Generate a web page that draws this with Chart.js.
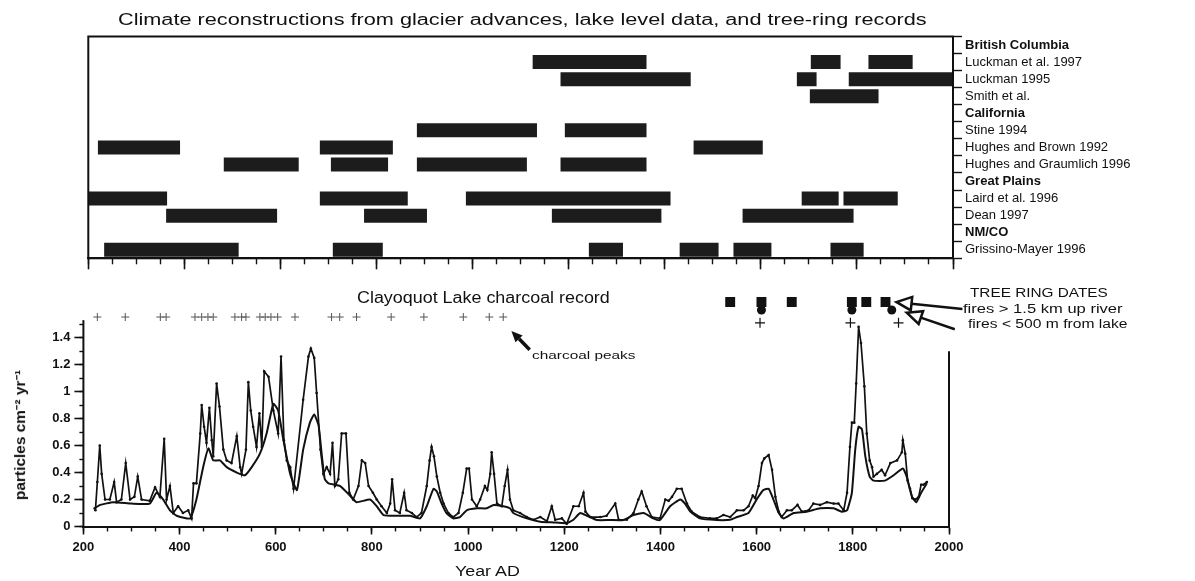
<!DOCTYPE html>
<html>
<head>
<meta charset="utf-8">
<script src="https://cdn.jsdelivr.net/npm/chart.js@4.4.1/dist/chart.umd.min.js"></script>
<style>
  body { margin: 0; background: #fff; }
  #wrap { position: relative; width: 1195px; height: 581px; overflow: hidden; font-family: Arial, "Liberation Sans", sans-serif; color: #111; }
  canvas { position: absolute; left: 0; }
  .txt { position: absolute; white-space: nowrap; line-height: 1; }
</style>
</head>
<body>
<div id="wrap">
  <canvas id="proxyChart" width="1195" height="275" style="top:0"></canvas>
  <canvas id="charcoalChart" width="1195" height="306" style="top:275px"></canvas>
</div>
<script>
// ---- top panel: climate reconstructions (year ranges) ----
const rowLabels = [
    'British Columbia', 'Luckman et al. 1997', 'Luckman 1995', 'Smith et al.',
    'California', 'Stine 1994', 'Hughes and Brown 1992', 'Hughes and Graumlich 1996',
    'Great Plains', 'Laird et al. 1996', 'Dean 1997', 'NM/CO', 'Grissino-Mayer 1996'
];
const regionRows = ['British Columbia', 'California', 'Great Plains', 'NM/CO'];

const luckmanEtAl1997 = [[1125, 1362], [1704, 1766], [1824, 1916]];
const luckman1995 = [[1183, 1454], [1675, 1716], [1783, 2000]];
const smithEtAl = [[1702, 1845]];
const stine1994 = [[884, 1134], [1192, 1362]];
const hughesBrown1992 = [[220, 391], [682, 834], [1460, 1604]];
const hughesGraumlich1996 = [[482, 638], [705, 824], [884, 1113], [1183, 1362]];
const laird1996 = [[200, 364], [682, 865], [986, 1412], [1685, 1762], [1772, 1885]];
const dean1997 = [[362, 593], [774, 905], [1165, 1393], [1562, 1793]];
const grissinoMayer1996 = [[233, 513], [709, 813], [1242, 1313], [1431, 1512], [1543, 1622], [1745, 1814]];

const rowBars = [
    [], luckmanEtAl1997, luckman1995, smithEtAl,
    [], stine1994, hughesBrown1992, hughesGraumlich1996,
    [], laird1996, dean1997, [], grissinoMayer1996
];

// ---- bottom panel: Clayoquot Lake charcoal record ----
const rawYears = [225, 229, 234, 238, 245, 255, 264, 269, 279, 288, 297, 306, 313, 321, 338, 349, 359, 368, 373, 380,
    387, 397, 407, 418, 425, 429, 435, 443, 446, 451, 456, 462, 467, 470, 477, 483, 491, 498, 508, 519,
    526, 529, 538, 543, 548, 553, 560, 566, 571, 576, 585, 595, 605, 611, 617, 623, 630, 637, 657, 668,
    673, 680, 685, 693, 699, 706, 713, 718, 723, 730, 737, 746, 753, 761, 772, 779, 786, 793, 802, 810,
    820, 831, 838, 842, 848, 858, 867, 872, 883, 893, 903, 914, 920, 924, 929, 935, 942, 949, 959, 969,
    980, 989, 997, 1002, 1008, 1018, 1025, 1035, 1040, 1046, 1049, 1054, 1060, 1070, 1076, 1082, 1087, 1094, 1108, 1122,
    1136, 1150, 1164, 1174, 1181, 1195, 1205, 1219, 1230, 1240, 1244, 1254, 1275, 1288, 1306, 1313, 1330, 1344, 1354, 1361,
    1371, 1382, 1399, 1410, 1417, 1424, 1434, 1444, 1455, 1465, 1482, 1503, 1517, 1531, 1545, 1559, 1573, 1583, 1592, 1597,
    1604, 1611, 1616, 1625, 1632, 1639, 1646, 1652, 1663, 1673, 1685, 1694, 1708, 1718, 1732, 1746, 1760, 1770, 1781, 1788,
    1794, 1798, 1803, 1807, 1812, 1817, 1824, 1829, 1835, 1840, 1843, 1850, 1860, 1867, 1878, 1892, 1902, 1904, 1909, 1914,
    1919, 1924, 1930, 1937, 1942, 1947, 1954];
const rawValues = [0.12, 0.33, 0.60, 0.39, 0.20, 0.20, 0.33, 0.18, 0.20, 0.47, 0.20, 0.22, 0.37, 0.20, 0.19, 0.29, 0.22, 0.65, 0.20, 0.30,
    0.10, 0.15, 0.10, 0.12, 0.06, 0.32, 0.32, 0.69, 0.90, 0.74, 0.62, 0.88, 0.64, 0.52, 1.06, 0.89, 0.57, 0.49, 0.47, 0.67,
    0.44, 0.39, 0.57, 1.07, 0.86, 0.74, 0.59, 0.84, 0.59, 1.15, 1.11, 0.86, 0.69, 1.26, 0.64, 0.49, 0.44, 0.28, 0.94, 1.26,
    1.32, 1.25, 0.99, 0.57, 0.39, 0.44, 0.39, 0.62, 0.30, 0.35, 0.69, 0.69, 0.25, 0.20, 0.30, 0.49, 0.47, 0.30, 0.25, 0.20,
    0.15, 0.10, 0.17, 0.35, 0.12, 0.10, 0.25, 0.12, 0.10, 0.07, 0.10, 0.30, 0.49, 0.59, 0.52, 0.37, 0.25, 0.17, 0.10, 0.07,
    0.10, 0.25, 0.43, 0.43, 0.20, 0.15, 0.20, 0.30, 0.27, 0.39, 0.55, 0.39, 0.17, 0.15, 0.30, 0.42, 0.20, 0.12, 0.10, 0.07,
    0.05, 0.07, 0.04, 0.15, 0.05, 0.06, 0.02, 0.15, 0.15, 0.25, 0.11, 0.07, 0.07, 0.08, 0.17, 0.05, 0.05, 0.10, 0.20, 0.26,
    0.15, 0.07, 0.06, 0.20, 0.19, 0.22, 0.28, 0.28, 0.17, 0.11, 0.07, 0.06, 0.06, 0.085, 0.07, 0.12, 0.12, 0.15, 0.23, 0.21,
    0.30, 0.47, 0.505, 0.53, 0.42, 0.22, 0.11, 0.07, 0.12, 0.12, 0.16, 0.11, 0.12, 0.17, 0.16, 0.18, 0.17, 0.17, 0.12, 0.25,
    0.59, 0.77, 0.77, 1.06, 1.48, 1.36, 1.04, 0.69, 0.49, 0.44, 0.37, 0.39, 0.42, 0.38, 0.47, 0.49, 0.55, 0.64, 0.54, 0.34,
    0.28, 0.21, 0.20, 0.22, 0.31, 0.31, 0.33];

const smoothYears = [221, 235, 262, 300, 338, 352, 366, 380, 394, 422, 435, 449, 460, 470, 484, 498, 519, 536, 550, 567,
    581, 595, 605, 616, 630, 644, 657, 671, 680, 689, 696, 702, 710, 734, 754, 768, 796, 810, 824, 852,
    879, 900, 914, 928, 935, 945, 955, 969, 983, 997, 1018, 1039, 1053, 1073, 1087, 1094, 1122, 1150, 1177, 1205,
    1219, 1233, 1247, 1268, 1295, 1323, 1344, 1365, 1385, 1399, 1420, 1441, 1451, 1462, 1482, 1517, 1545, 1559, 1583, 1600,
    1614, 1625, 1635, 1646, 1656, 1677, 1704, 1732, 1760, 1777, 1788, 1798, 1805, 1812, 1819, 1826, 1835, 1843, 1867, 1885,
    1904, 1912, 1923, 1932, 1942, 1954];
const smoothValues = [0.13, 0.16, 0.18, 0.17, 0.17, 0.25, 0.20, 0.12, 0.08, 0.06, 0.20, 0.44, 0.58, 0.49, 0.49, 0.44, 0.40, 0.38, 0.44, 0.54,
    0.69, 0.91, 0.86, 0.64, 0.39, 0.27, 0.57, 0.77, 0.83, 0.75, 0.52, 0.35, 0.32, 0.30, 0.23, 0.18, 0.20, 0.15, 0.085, 0.08,
    0.08, 0.06, 0.15, 0.28, 0.26, 0.17, 0.10, 0.06, 0.07, 0.12, 0.135, 0.135, 0.16, 0.15, 0.135, 0.10, 0.06, 0.036, 0.03, 0.025,
    0.05, 0.10, 0.08, 0.048, 0.048, 0.048, 0.085, 0.10, 0.06, 0.048, 0.15, 0.20, 0.17, 0.11, 0.06, 0.048, 0.05, 0.07, 0.10, 0.20,
    0.27, 0.28, 0.20, 0.10, 0.06, 0.10, 0.11, 0.135, 0.135, 0.11, 0.12, 0.25, 0.57, 0.74, 0.72, 0.52, 0.37, 0.34, 0.34, 0.38,
    0.43, 0.37, 0.22, 0.18, 0.25, 0.32];

// marker rows drawn above the plot
const charcoalPeakYears = [229, 287, 360, 372, 432, 446, 459, 470, 515, 529, 538, 567, 578, 590, 604, 640, 716, 733, 768,
    840, 908, 990, 1044, 1073];
const upRiverFireYears = [1545, 1610, 1673, 1798, 1828, 1868];   // squares
const nearLakeFireYears = [1610, 1798, 1881];                    // circles
const treeRingPeakYears = [1607, 1795, 1895];                    // crosses under the dates
const peakRowY = 1.553, squareRowY = 1.664, circleRowY = 1.605, crossRowY = 1.51;

const ink = '#111';
const axisTop = 1.53;   // left axis line stops here
const yTop = 1.72;      // room for the marker rows

function toPoints(xs, ys) {
    return xs.map((x, i) => ({ x: x, y: ys[i] }));
}
function rowPoints(xs, y) {
    return xs.map(x => ({ x: x, y: y }));
}

// ---------- top chart ----------
const barDatasets = [];
for (let k = 0; k < 6; k++) {
    barDatasets.push({
        data: rowBars.map(r => r[k] || null),
        backgroundColor: '#1c1c1c',
        borderWidth: 0,
        barPercentage: 0.82,
        categoryPercentage: 1,
        grouped: false,
        xAxisID: 'x',
        yAxisID: 'y'
    });
}

const boxPlugin = {
    id: 'box',
    afterDraw(chart) {
        const a = chart.chartArea, ctx = chart.ctx;
        ctx.save();
        ctx.strokeStyle = ink;
        ctx.lineWidth = 2;
        ctx.strokeRect(a.left, a.top, a.right - a.left, a.bottom - a.top);
        ctx.restore();
    }
};

function fixHeight(h) { return s => { s.height = h; }; }
function fixWidth(w) { return s => { s.width = w; }; }

new Chart(document.getElementById('proxyChart').getContext('2d'), {
    type: 'bar',
    data: { labels: rowLabels, datasets: barDatasets },
    plugins: [boxPlugin],
    options: {
        responsive: false,
        animation: false,
        indexAxis: 'y',
        layout: { padding: { left: 88.3, right: 0, top: 36.5, bottom: 16.7 } },
        plugins: { legend: { display: false }, tooltip: { enabled: false } },
        scales: {
            xMinor: {
                type: 'linear', min: 200, max: 2000, position: 'bottom', weight: 0, afterFit: fixHeight(0),
                ticks: { display: false, stepSize: 50 },
                grid: { drawOnChartArea: false, tickLength: 6, tickWidth: 1.4, tickColor: ink },
                border: { color: ink, width: 2 }
            },
            x: {
                type: 'linear', min: 200, max: 2000, position: 'bottom', weight: 1, afterFit: fixHeight(0),
                ticks: { display: false, stepSize: 200 },
                grid: { drawOnChartArea: false, tickLength: 11, tickWidth: 1.6, tickColor: ink },
                border: { color: ink, width: 2 }
            },
            y: {
                type: 'category', position: 'right', afterFit: fixWidth(242),
                ticks: {
                    autoSkip: false, color: ink, padding: 3,
                    font: ctx => ({
                        family: 'Arial, "Liberation Sans", sans-serif', size: 13,
                        weight: regionRows.includes(rowLabels[ctx.index]) ? 'bold' : 'normal'
                    })
                },
                grid: { drawOnChartArea: false, tickLength: 9, tickWidth: 1.4, tickColor: ink },
                border: { color: ink, width: 2 }
            }
        }
    }
});

// ---------- bottom chart ----------
function arrow(ctx, x1, y1, x2, y2, head, open) {
    const ang = Math.atan2(y2 - y1, x2 - x1);
    const bx = x2 - head * Math.cos(ang), by = y2 - head * Math.sin(ang);
    ctx.beginPath();
    ctx.moveTo(x1, y1);
    ctx.lineTo(bx, by);
    ctx.stroke();
    const w = head * 0.45;
    ctx.beginPath();
    ctx.moveTo(x2, y2);
    ctx.lineTo(bx + w * Math.sin(ang), by - w * Math.cos(ang));
    ctx.lineTo(bx - w * Math.sin(ang), by + w * Math.cos(ang));
    ctx.closePath();
    if (open) {
        ctx.fillStyle = '#fff';
        ctx.fill();
        ctx.stroke();
    } else {
        ctx.fillStyle = ink;
        ctx.fill();
    }
}

const extrasPlugin = {
    id: 'extras',
    afterDraw(chart) {
        const ctx = chart.ctx, xs = chart.scales.x, ys = chart.scales.y;
        ctx.save();
        ctx.strokeStyle = ink;
        ctx.lineWidth = 2;
        // left axis line (stops just above 1.5)
        ctx.beginPath();
        ctx.moveTo(xs.getPixelForValue(200), ys.getPixelForValue(0) + 1);
        ctx.lineTo(xs.getPixelForValue(200), ys.getPixelForValue(axisTop));
        ctx.stroke();
        // short right-hand axis line at AD 2000
        ctx.beginPath();
        ctx.moveTo(xs.getPixelForValue(2000), ys.getPixelForValue(0) + 1);
        ctx.lineTo(xs.getPixelForValue(2000), ys.getPixelForValue(1.3));
        ctx.stroke();
        // "charcoal peaks" arrow
        ctx.lineWidth = 3.5;
        arrow(ctx, xs.getPixelForValue(1128), ys.getPixelForValue(1.31),
            xs.getPixelForValue(1090), ys.getPixelForValue(1.45), 11, false);
        // tree ring legend arrows
        ctx.lineWidth = 2.5;
        arrow(ctx, xs.getPixelForValue(2028), ys.getPixelForValue(1.612),
            xs.getPixelForValue(1891), ys.getPixelForValue(1.664), 15, true);
        arrow(ctx, xs.getPixelForValue(2012), ys.getPixelForValue(1.462),
            xs.getPixelForValue(1912), ys.getPixelForValue(1.585), 15, true);
        ctx.restore();
    }
};

const hideAbove = limit => ctx => (ctx.tick && ctx.tick.value > limit ? 'rgba(0,0,0,0)' : ink);

new Chart(document.getElementById('charcoalChart').getContext('2d'), {
    type: 'line',
    data: {
        datasets: [
            {
                data: toPoints(rawYears, rawValues),
                borderColor: ink, borderWidth: 1.7,
                pointRadius: 1.3, pointBackgroundColor: ink, pointBorderWidth: 0,
                tension: 0
            },
            {
                data: toPoints(smoothYears, smoothValues),
                borderColor: ink, borderWidth: 2,
                pointRadius: 0, tension: 0.15
            },
            {
                data: rowPoints(charcoalPeakYears, peakRowY), showLine: false,
                pointStyle: 'cross', pointRadius: 4, borderColor: '#555', borderWidth: 1
            },
            {
                data: rowPoints(upRiverFireYears, squareRowY), showLine: false,
                pointStyle: 'rect', pointRadius: 7, backgroundColor: ink, borderColor: ink, borderWidth: 0
            },
            {
                data: rowPoints(nearLakeFireYears, circleRowY), showLine: false,
                pointStyle: 'circle', pointRadius: 4.5, backgroundColor: ink, borderColor: ink, borderWidth: 0
            },
            {
                data: rowPoints(treeRingPeakYears, crossRowY), showLine: false,
                pointStyle: 'cross', pointRadius: 5, borderColor: ink, borderWidth: 1.2
            }
        ]
    },
    plugins: [extrasPlugin],
    options: {
        responsive: false,
        animation: false,
        layout: { padding: { left: 0, right: 246, top: 19.5, bottom: 0 } },
        plugins: { legend: { display: false }, tooltip: { enabled: false } },
        scales: {
            xMinor: {
                type: 'linear', min: 200, max: 2000, position: 'bottom', weight: 0, afterFit: fixHeight(0),
                ticks: { display: false, stepSize: 50 },
                grid: { drawOnChartArea: false, tickLength: 5, tickWidth: 1.4, tickColor: ink },
                border: { color: ink, width: 2 }
            },
            x: {
                type: 'linear', min: 200, max: 2000, position: 'bottom', weight: 1, afterFit: fixHeight(54.5),
                ticks: {
                    stepSize: 200, autoSkip: false, maxRotation: 0, color: ink, padding: 5,
                    callback: v => String(v),
                    font: { family: 'Arial, "Liberation Sans", sans-serif', size: 13, weight: 'bold' }
                },
                grid: { drawOnChartArea: false, tickLength: 8, tickWidth: 1.6, tickColor: ink },
                border: { color: ink, width: 2 }
            },
            yMinor: {
                type: 'linear', min: 0, max: yTop, position: 'left', weight: 0, afterFit: fixWidth(0),
                ticks: { display: false, stepSize: 0.1 },
                grid: { drawOnChartArea: false, tickLength: 4, tickWidth: 1.4, tickColor: hideAbove(axisTop) },
                border: { display: false }
            },
            y: {
                type: 'linear', min: 0, max: yTop, position: 'left', weight: 1, afterFit: fixWidth(83.4),
                ticks: {
                    stepSize: 0.2, includeBounds: false, color: ink, padding: 4,
                    callback: v => (v > 1.45 ? '' : String(Math.round(v * 10) / 10)),
                    font: { family: 'Arial, "Liberation Sans", sans-serif', size: 13, weight: 'bold' }
                },
                grid: { drawOnChartArea: false, tickLength: 9, tickWidth: 1.6, tickColor: hideAbove(1.45) },
                border: { display: false }
            }
        }
    }
});

// ---------- text ----------
const wrap = document.getElementById('wrap');
function placeText(text, left, centerY, size, width, weight) {
    const el = document.createElement('div');
    el.className = 'txt';
    el.textContent = text;
    el.style.fontSize = size + 'px';
    el.style.fontWeight = weight || 'normal';
    wrap.appendChild(el);
    const w = el.offsetWidth, h = el.offsetHeight;
    el.style.left = left + 'px';
    el.style.top = (centerY - h / 2) + 'px';
    el.style.transformOrigin = '0 50%';
    el.style.transform = 'scaleX(' + (width / w).toFixed(3) + ')';
    return el;
}

placeText('Climate reconstructions from glacier advances, lake level data, and tree-ring records', 118, 20, 16, 809);
placeText('Clayoquot Lake charcoal record', 357, 298, 16, 253);
placeText('charcoal peaks', 532, 356, 11.5, 103);
placeText('TREE RING DATES', 970, 293, 12, 138);
placeText('fires > 1.5 km up river', 963, 309, 12, 160);
placeText('fires < 500 m from lake', 968, 324, 12, 159);
placeText('Year AD', 455, 571, 14, 65);

const yTitle = document.createElement('div');
yTitle.className = 'txt';
yTitle.style.fontSize = '14px';
yTitle.style.fontWeight = 'bold';
yTitle.textContent = 'particles cm\u207B\u00B2 yr\u207B\u00B9';
wrap.appendChild(yTitle);
const tw = yTitle.offsetWidth, th = yTitle.offsetHeight;
yTitle.style.left = (20 - tw / 2) + 'px';
yTitle.style.top = (435 - th / 2) + 'px';
yTitle.style.transformOrigin = '50% 50%';
yTitle.style.transform = 'rotate(-90deg) scaleX(' + (130 / tw).toFixed(3) + ')';
</script>
</body>
</html>
